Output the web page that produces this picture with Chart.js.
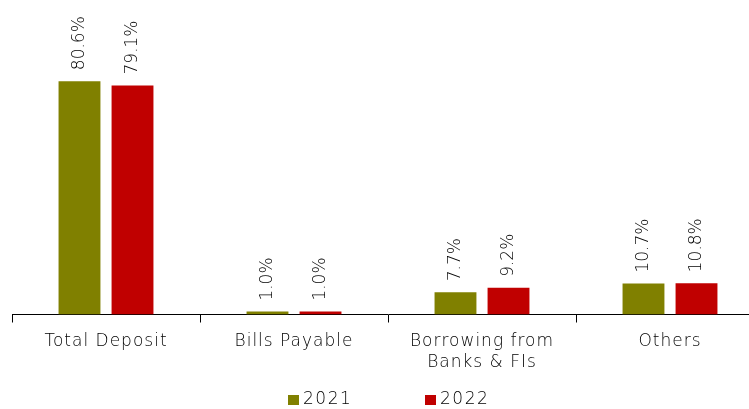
<!DOCTYPE html>
<html>
<head>
<meta charset="utf-8">
<script src="https://cdn.jsdelivr.net/npm/chart.js@4"></script>
<style>
  html, body { margin: 0; padding: 0; background: #fff; overflow: hidden; }
  #wrap { position: absolute; left: 0; top: 0; width: 776px; height: 409px; }
</style>
</head>
<body>
<div id="wrap"><canvas id="c" width="776" height="409"></canvas></div>
<script>
const categories = ["Total Deposit", "Bills Payable", ["Borrowing from", "Banks & FIs"], "Others"];
const seriesNames = ["2021", "2022"];
const values2021 = [80.6, 1.0, 7.7, 10.7];
const values2022 = [79.1, 1.0, 9.2, 10.8];
const colors = ["#808000", "#C00000"];
const FONT = "'DejaVu Sans', sans-serif";
const TEXT = '#000';

const spacing = {
  id: 'spacing',
  beforeDraw(chart) { chart.ctx.letterSpacing = '1px'; }
};

const valueLabels = {
  id: 'valueLabels',
  afterDatasetsDraw(chart) {
    const ctx = chart.ctx;
    ctx.save();
    ctx.letterSpacing = '0px';
    ctx.fillStyle = TEXT;
    ctx.font = '200 17px ' + FONT;
    ctx.textAlign = 'left';
    ctx.textBaseline = 'middle';
    chart.data.datasets.forEach((ds, i) => {
      chart.getDatasetMeta(i).data.forEach((bar, j) => {
        const txt = ds.data[j].toFixed(1) + '%';
        ctx.save();
        ctx.translate(bar.x, bar.y - 11);
        ctx.rotate(-Math.PI / 2);
        ctx.fillText(txt, 0, 0);
        ctx.restore();
      });
    });
    ctx.restore();
  }
};

const customLegend = {
  id: 'customLegend',
  afterDraw(chart) {
    const ctx = chart.ctx;
    ctx.save();
    ctx.letterSpacing = '1.5px';
    ctx.font = '200 17px ' + FONT;
    ctx.textBaseline = 'middle';
    ctx.textAlign = 'left';
    const xs = [288, 425];
    const y = 400;
    chart.data.datasets.forEach((ds, i) => {
      ctx.fillStyle = ds.backgroundColor;
      ctx.fillRect(xs[i], y - 5, 11, 10);
      ctx.fillStyle = TEXT;
      ctx.fillText(ds.label, xs[i] + 15, y);
    });
    ctx.restore();
  }
};

new Chart(document.getElementById('c'), {
  type: 'bar',
  data: {
    labels: categories,
    datasets: [
      { label: seriesNames[0], data: values2021, backgroundColor: colors[0], borderWidth: 0,
        categoryPercentage: 0.564, barPercentage: 0.79 },
      { label: seriesNames[1], data: values2022, backgroundColor: colors[1], borderWidth: 0,
        categoryPercentage: 0.564, barPercentage: 0.79 }
    ]
  },
  options: {
    responsive: false,
    animation: false,
    devicePixelRatio: 1,
    layout: { padding: { left: 12, right: 12, top: 25, bottom: 28 } },
    plugins: {
      legend: { display: false },
      title: { display: false },
      tooltip: { enabled: false }
    },
    scales: {
      x: {
        grid: { display: true, drawOnChartArea: false, drawTicks: true, tickLength: 8, color: '#000', offset: true },
        border: { display: true, color: '#000', width: 1 },
        ticks: { color: TEXT, font: { family: FONT, size: 17, weight: '200', lineHeight: 1.25 }, maxRotation: 0, autoSkip: false, padding: 8 }
      },
      y: {
        display: false,
        min: 0,
        max: 100
      }
    }
  },
  plugins: [spacing, valueLabels, customLegend]
});
</script>
</body>
</html>
